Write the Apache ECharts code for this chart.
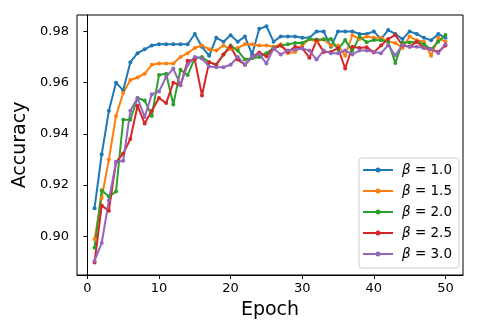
<!DOCTYPE html>
<html lang="en" style="height:100%">
<head>
    <meta charset="UTF-8">
    <title>Accuracy vs Epoch</title>
    <script src="https://cdn.jsdelivr.net/npm/echarts@6/dist/echarts.min.js"></script>
</head>
<body style="height:100%;margin:0">
<div id="main" style="width:480px;height:335px;"></div>
<script type="text/javascript">
    var epochs = [];
    for (var i = 1; i <= 50; i++) epochs.push(i);

    var betaNames = ['β = 1.0', 'β = 1.5', 'β = 2.0', 'β = 2.5', 'β = 3.0'];
    var colors = ['#1f77b4', '#ff7f0e', '#2ca02c', '#d62728', '#9467bd'];

    var acc10 = [0.911, 0.932, 0.949, 0.960, 0.957, 0.968, 0.9715, 0.973, 0.9745, 0.975,
                 0.975, 0.975, 0.975, 0.975, 0.979, 0.974, 0.9705, 0.9775, 0.976, 0.9785,
                 0.976, 0.978, 0.971, 0.981, 0.982, 0.976, 0.978, 0.978, 0.978, 0.9775,
                 0.9775, 0.980, 0.980, 0.974, 0.980, 0.980, 0.980, 0.979, 0.979, 0.980,
                 0.977, 0.9805, 0.979, 0.977, 0.980, 0.979, 0.9775, 0.9765, 0.979, 0.9775];
    var acc15 = [0.899, 0.915, 0.930, 0.947, 0.956, 0.961, 0.962, 0.9635, 0.967, 0.9675,
                 0.9675, 0.9675, 0.970, 0.9715, 0.9735, 0.9745, 0.973, 0.9725, 0.9745, 0.973,
                 0.9735, 0.975, 0.975, 0.9745, 0.9745, 0.974, 0.975, 0.9715, 0.972, 0.9745,
                 0.977, 0.976, 0.977, 0.9745, 0.9745, 0.9705, 0.9785, 0.977, 0.978, 0.9775,
                 0.9775, 0.976, 0.9755, 0.9735, 0.978, 0.9765, 0.976, 0.9705, 0.9775, 0.976];
    var acc20 = [0.8955, 0.918, 0.9155, 0.9175, 0.9455, 0.9455, 0.954, 0.953, 0.947, 0.963,
                 0.9635, 0.9515, 0.965, 0.963, 0.9695, 0.970, 0.968, 0.967, 0.971, 0.9745,
                 0.9725, 0.969, 0.9695, 0.970, 0.9715, 0.9735, 0.9745, 0.975, 0.9755, 0.9755,
                 0.977, 0.9768, 0.9768, 0.977, 0.973, 0.9766, 0.9724, 0.9779, 0.9758, 0.9766,
                 0.9765, 0.976, 0.9677, 0.9757, 0.9757, 0.976, 0.975, 0.973, 0.976, 0.9786];
    var acc25 = [0.8898, 0.912, 0.910, 0.929, 0.9323, 0.938, 0.951, 0.944, 0.949, 0.954,
                 0.952, 0.960, 0.959, 0.9685, 0.969, 0.955, 0.968, 0.967, 0.971, 0.974,
                 0.969, 0.967, 0.970, 0.9718, 0.9703, 0.9733, 0.9745, 0.972, 0.974, 0.9735,
                 0.9697, 0.9765, 0.972, 0.972, 0.9735, 0.9655, 0.974, 0.9735, 0.9738, 0.9718,
                 0.9745, 0.977, 0.9786, 0.9745, 0.974, 0.976, 0.9735, 0.973, 0.972, 0.9745];
    var acc30 = [0.8904, 0.8974, 0.914, 0.929, 0.9295, 0.949, 0.954, 0.9466, 0.9555, 0.9565,
                 0.9623, 0.9655, 0.959, 0.967, 0.970, 0.9694, 0.9663, 0.966, 0.966, 0.967,
                 0.970, 0.967, 0.970, 0.971, 0.9675, 0.9733, 0.971, 0.9725, 0.9728, 0.9733,
                 0.9725, 0.969, 0.9725, 0.9715, 0.9715, 0.9725, 0.971, 0.9725, 0.9725, 0.972,
                 0.9715, 0.9746, 0.9707, 0.9747, 0.974, 0.974, 0.9735, 0.973, 0.9716, 0.975];

    var xTicks = [0, 10, 20, 30, 40, 50];
    var yTicks = [0.90, 0.92, 0.94, 0.96, 0.98];

    var allAcc = [acc10, acc15, acc20, acc25, acc30];
    var font = 'DejaVu Sans';
    // legend glyph: a thin line with a small dot in the middle
    var legendIcon = 'path://M0,6L30,6L30,8L0,8Z M12.5,7A2.5,2.5 0 1,1 17.5,7A2.5,2.5 0 1,1 12.5,7Z';

    var myChart = echarts.init(document.getElementById('main'));
    var option = {
        animation: false,
        backgroundColor: '#fff',
        grid: {
            left: 77, right: 17, top: 15, bottom: 60,
            show: true, borderColor: '#000', borderWidth: 1
        },
        legend: {
            orient: 'vertical',
            left: 359, top: 158,
            padding: [5, 7, 7, 4],
            itemWidth: 30, itemHeight: 14, itemGap: 7,
            icon: legendIcon,
            backgroundColor: 'rgba(255,255,255,0.8)',
            borderColor: '#ccc', borderWidth: 1, borderRadius: 3,
            data: betaNames,
            formatter: function (n) { return n.replace('β', '{i|β}'); },
            textStyle: {
                fontFamily: font, fontSize: 13.5, color: '#000', padding: [0, 0, 0, 4],
                rich: { i: { fontFamily: font, fontSize: 13.5, fontStyle: 'italic', color: '#000' } }
            }
        },
        xAxis: {
            type: 'value',
            min: -1.45, max: 52.45,
            name: 'Epoch', nameLocation: 'middle', nameGap: 26,
            nameTextStyle: { fontFamily: font, fontSize: 19, color: '#000' },
            axisLine: { show: true, lineStyle: { color: '#000', width: 1 } },
            axisTick: { show: true, length: 4, lineStyle: { color: '#000' }, customValues: xTicks },
            axisLabel: { fontFamily: font, fontSize: 13, color: '#000', margin: 7, customValues: xTicks },
            splitLine: { show: false }
        },
        yAxis: {
            type: 'value',
            min: 0.8849, max: 0.9864,
            name: 'Accuracy', nameLocation: 'middle', nameGap: 42,
            nameTextStyle: { fontFamily: font, fontSize: 19, color: '#000' },
            axisLine: { show: true, lineStyle: { color: '#000', width: 1 } },
            axisTick: { show: true, length: 4, lineStyle: { color: '#000' }, customValues: yTicks },
            axisLabel: {
                fontFamily: font, fontSize: 13, color: '#000', margin: 8, customValues: yTicks,
                formatter: function (v) { return v.toFixed(2); }
            },
            splitLine: { show: false }
        },
        series: betaNames.map(function (name, k) {
            return {
                name: name,
                type: 'line',
                data: epochs.map(function (e, j) { return [e, allAcc[k][j]]; }),
                symbol: 'circle',
                symbolSize: 4,
                showSymbol: true,
                lineStyle: { color: colors[k], width: 2 },
                itemStyle: { color: colors[k] }
            };
        })
    };
    myChart.setOption(option);
</script>
</body>
</html>
